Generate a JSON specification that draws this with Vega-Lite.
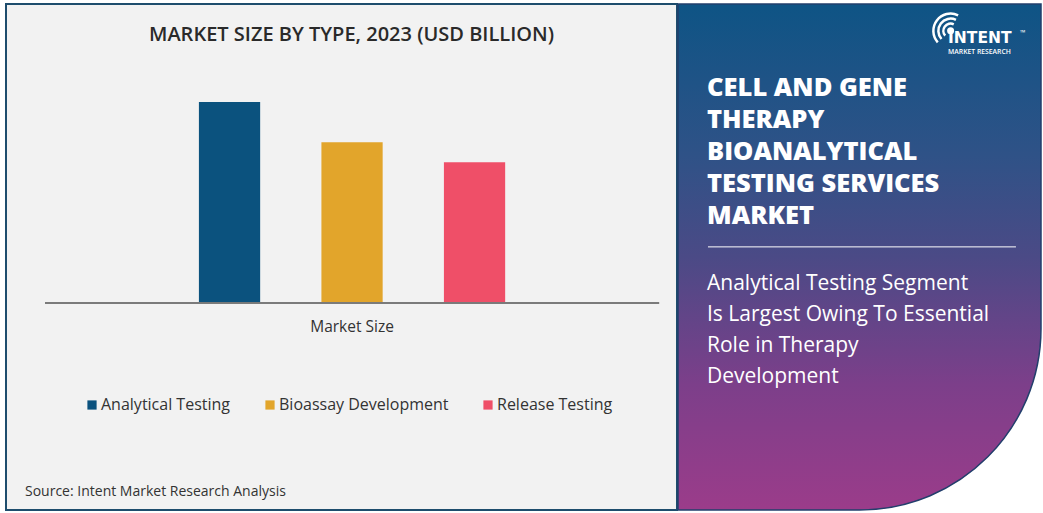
{
  "$schema": "https://vega.github.io/schema/vega-lite/v6.json",
  "background": "white",
  "padding": {"left": 5, "top": 3, "right": 2, "bottom": 2},
  "autosize": {"type": "pad"},
  "spacing": -2,
  "config": {"view": {"stroke": null}, "font": "Open Sans"},
  "title": {
    "text": "Source: Intent Market Research Analysis",
    "orient": "bottom",
    "anchor": "start",
    "frame": "bounds",
    "dx": 20,
    "offset": -26,
    "font": "Open Sans",
    "fontSize": 14,
    "fontWeight": 400,
    "color": "#333333"
  },
  "hconcat": [
    {
      "width": 671,
      "height": 506,
      "view": {"fill": "#f2f2f2", "stroke": "#1e4d6d", "strokeWidth": 2},
      "title": {
        "text": "MARKET SIZE BY TYPE, 2023 (USD BILLION)",
        "anchor": "middle",
        "dx": 10,
        "offset": -41,
        "font": "Open Sans",
        "fontSize": 20,
        "fontWeight": 600,
        "color": "#2a2a2a"
      },
      "data": {
        "values": [
          {"group": "Market Size", "type": "Analytical Testing", "value": 0.30},
          {"group": "Market Size", "type": "Bioassay Development", "value": 0.24},
          {"group": "Market Size", "type": "Release Testing", "value": 0.21}
        ]
      },
      "layer": [
        {
          "mark": {"type": "bar"},
          "encoding": {
            "x": {
              "field": "group",
              "type": "nominal",
              "scale": {"paddingInner": 0, "paddingOuter": 0.1086, "align": 0.588},
              "axis": {
                "title": null,
                "orient": "bottom",
                "offset": -207,
                "domain": false,
                "ticks": false,
                "tickSize": 0,
                "labelAngle": 0,
                "labelPadding": 16,
                "labelFont": "Open Sans",
                "labelFontSize": 15.5,
                "labelColor": "#333333"
              }
            },
            "xOffset": {
              "field": "type",
              "type": "nominal",
              "sort": ["Analytical Testing", "Bioassay Development", "Release Testing"],
              "scale": {"paddingInner": 0.5, "paddingOuter": 1}
            },
            "y": {
              "field": "value",
              "type": "quantitative",
              "scale": {"domain": [-0.309, 0.4463], "nice": false, "zero": false},
              "axis": null
            },
            "color": {
              "field": "type",
              "type": "nominal",
              "sort": ["Analytical Testing", "Bioassay Development", "Release Testing"],
              "scale": {
                "domain": ["Analytical Testing", "Bioassay Development", "Release Testing"],
                "range": ["#0b527e", "#e2a52b", "#ef4f68"]
              },
              "legend": {
                "orient": "none",
                "legendX": 78,
                "legendY": 393,
                "direction": "horizontal",
                "title": null,
                "symbolType": "square",
                "symbolSize": 85,
                "symbolStrokeWidth": 0,
                "labelFont": "Open Sans",
                "labelFontSize": 16,
                "labelColor": "#333333",
                "labelOffset": 1,
                "labelLimit": 400,
                "columnPadding": 31
              }
            }
          }
        },
        {
          "mark": {"type": "rule", "color": "#7a7a7a", "strokeWidth": 1.5},
          "encoding": {
            "x": {"field": "group", "type": "nominal", "bandPosition": -0.057},
            "x2": {"field": "group", "bandPosition": 1.057},
            "y": {"datum": 0}
          }
        }
      ]
    },
    {
      "width": 363,
      "height": 506,
      "view": {"stroke": null},
      "title": {
        "text": ["CELL AND GENE", "THERAPY", "BIOANALYTICAL", "TESTING SERVICES", "MARKET"],
        "subtitle": ["Analytical Testing Segment", "Is Largest Owing To Essential", "Role in Therapy", "Development"],
        "anchor": "start",
        "frame": "group",
        "dx": 29,
        "offset": -384,
        "font": "Open Sans",
        "fontSize": 25.5,
        "fontWeight": 800,
        "color": "white",
        "lineHeight": 32,
        "subtitleFont": "Open Sans",
        "subtitleFontSize": 21,
        "subtitleFontWeight": 500,
        "subtitleColor": "white",
        "subtitleLineHeight": 31,
        "subtitlePadding": 44
      },
      "data": {"values": [{"panel": "Cell and Gene Therapy Bioanalytical Testing Services Market"}]},
      "layer": [
        {
          "mark": {
            "type": "rect",
            "fill": {
              "gradient": "linear",
              "x1": 0, "y1": 0, "x2": 0, "y2": 1,
              "stops": [
                {"offset": 0, "color": "#0e5485"},
                {"offset": 0.3, "color": "#2f5287"},
                {"offset": 0.5, "color": "#4b4a86"},
                {"offset": 0.75, "color": "#7c3f8a"},
                {"offset": 1, "color": "#9b3c8a"}
              ]
            },
            "stroke": "#223f6c",
            "strokeWidth": 1.5,
            "cornerRadiusBottomRight": 190
          },
          "encoding": {}
        },
        {
          "mark": {"type": "rule", "color": "white", "strokeWidth": 1},
          "encoding": {
            "x": {"datum": 0.0826, "type": "quantitative", "scale": {"domain": [0, 1], "nice": false, "zero": false}, "axis": null},
            "x2": {"datum": 0.931},
            "y": {"datum": 0.52, "type": "quantitative", "scale": {"domain": [0, 1], "nice": false, "zero": false}, "axis": null}
          }
        },
        {
          "mark": {"type": "arc", "radius": 18.5, "radius2": 16, "theta": -2.3, "theta2": 0.45, "color": "white"},
          "encoding": {"x": {"datum": 0.751, "type": "quantitative"}, "y": {"datum": 0.947, "type": "quantitative"}}
        },
        {
          "mark": {"type": "arc", "radius": 13.5, "radius2": 11, "theta": -2.3, "theta2": 0.45, "color": "white"},
          "encoding": {"x": {"datum": 0.751, "type": "quantitative"}, "y": {"datum": 0.947, "type": "quantitative"}}
        },
        {
          "mark": {"type": "arc", "radius": 8.5, "radius2": 6, "theta": -2.3, "theta2": 0.45, "color": "white"},
          "encoding": {"x": {"datum": 0.751, "type": "quantitative"}, "y": {"datum": 0.947, "type": "quantitative"}}
        },
        {
          "mark": {"type": "arc", "radius": 3.5, "radius2": 0, "theta": 0, "theta2": 6.2832, "color": "white"},
          "encoding": {"x": {"datum": 0.751, "type": "quantitative"}, "y": {"datum": 0.947, "type": "quantitative"}}
        },
        {
          "mark": {"type": "text", "text": "INTENT", "color": "white", "fontSize": 15.5, "fontWeight": 700, "align": "left", "baseline": "middle", "font": "DejaVu Sans"},
          "encoding": {"x": {"datum": 0.744, "type": "quantitative"}, "y": {"datum": 0.932, "type": "quantitative"}}
        },
        {
          "mark": {"type": "text", "text": "MARKET RESEARCH", "color": "white", "fontSize": 6.8, "fontWeight": 600, "align": "left", "baseline": "middle", "font": "Open Sans"},
          "encoding": {"x": {"datum": 0.744, "type": "quantitative"}, "y": {"datum": 0.905, "type": "quantitative"}}
        },
        {
          "mark": {"type": "text", "text": "™", "color": "white", "fontSize": 7, "align": "left", "baseline": "middle", "font": "Open Sans"},
          "encoding": {"x": {"datum": 0.942, "type": "quantitative"}, "y": {"datum": 0.943, "type": "quantitative"}}
        }
      ]
    }
  ]
}
